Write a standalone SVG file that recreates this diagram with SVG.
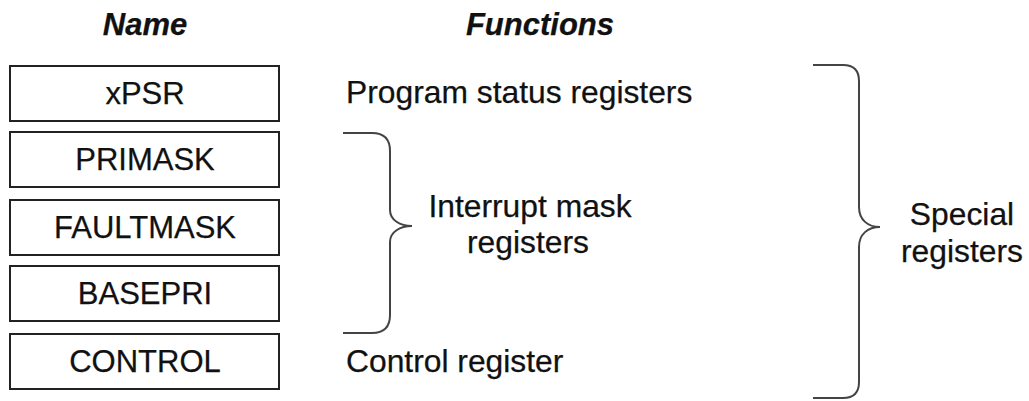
<svg xmlns="http://www.w3.org/2000/svg" width="1029" height="401" viewBox="0 0 1029 401">
<style>
text{font-family:"Liberation Sans",Arial,sans-serif;font-size:31px;fill:#111;stroke:#111;stroke-width:0.25}
.hd{font-weight:bold;font-style:italic}
.fn{font-size:31.8px}
.c{text-anchor:middle}
.box{fill:#fff;stroke:#222;stroke-width:2}
.brace{fill:none;stroke:#444;stroke-width:2}
</style>
<rect width="1029" height="401" fill="#fff"/>
<text class="hd c" x="145" y="35">Name</text>
<text class="hd c" x="540" y="35">Functions</text>
<g id="xpsr"><rect class="box" x="10" y="66" width="269" height="55"/><text class="c" x="145" y="104">xPSR</text></g>
<g id="primask"><rect class="box" x="10" y="132" width="269" height="55"/><text class="c" x="145" y="170">PRIMASK</text></g>
<g id="faultmask"><rect class="box" x="10" y="200" width="269" height="55"/><text class="c" x="145" y="238">FAULTMASK</text></g>
<g id="basepri"><rect class="box" x="10" y="266" width="269" height="55"/><text class="c" x="145" y="304">BASEPRI</text></g>
<g id="control"><rect class="box" x="10" y="334" width="269" height="55"/><text class="c" x="145" y="372">CONTROL</text></g>
<g id="labels">
<text class="fn" x="346" y="103">Program status registers</text>
<text class="fn c" x="530" y="217">Interrupt mask</text>
<text class="fn c" x="528" y="253">registers</text>
<text class="fn" x="346" y="372">Control register</text>
<text class="fn c" x="962" y="225">Special</text>
<text class="fn c" x="962" y="262">registers</text>
</g>
<g id="connectors">
<path class="brace" d="M343,133 H372 Q390,133 390,151 V210 C390,220 400,226 412,226 C400,226 390,232 390,242 V315 Q390,333 372,333 H343"/>
<path class="brace" d="M813,65 H843 Q859,65 859,81 V207 C859,220 868,227 880,227 C868,227 859,234 859,247 V382 Q859,398 843,398 H813"/>
</g>
</svg>
